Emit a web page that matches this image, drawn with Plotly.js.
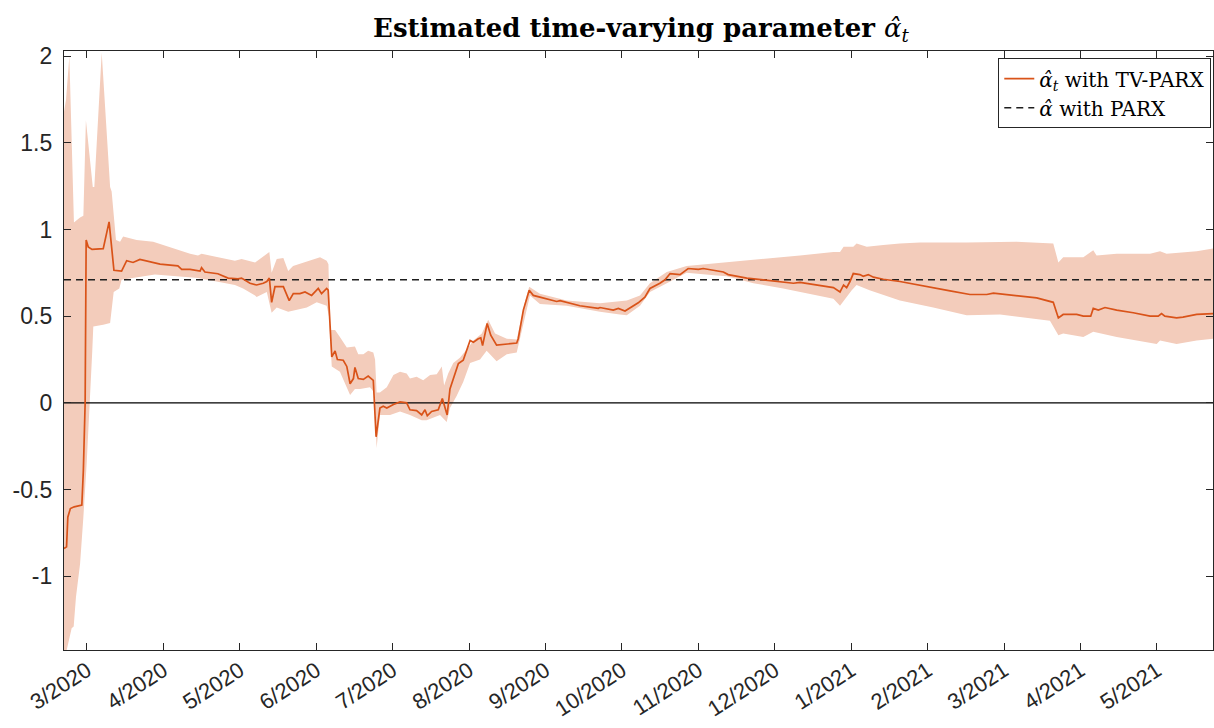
<!DOCTYPE html>
<html>
<head>
<meta charset="utf-8">
<script src="https://cdn.plot.ly/plotly-3.0.1.min.js"></script>
<style>html,body{margin:0;padding:0;background:#fff;}#chart{width:1214px;height:728px;}</style>
</head>
<body>
<div id="chart"></div>
<script>
const tickPositions = [9, 39, 69, 99, 129, 159, 189, 219, 249, 279, 309, 339, 369, 399, 429];
const tickLabels = ["3/2020","4/2020","5/2020","6/2020","7/2020","8/2020","9/2020","10/2020","11/2020","12/2020","1/2021","2/2021","3/2021","4/2021","5/2021"];
const tMax = 451;
const parxAlpha = 0.71;

const medT = [0,1,1.5,2.5,4,7,7.6,8.3,8.7,9.5,11,15.4,17.7,19.6,22.6,24.6,27.1,29.8,37.7,44.7,46.2,49.5,53.4,54,55.3,60.4,64.4,68.3,69.7,72.2,73,75.6,78.2,79.6,80.6,81.5,82.8,86.1,86.7,88.4,90,92.6,94.6,97.2,99.8,101.1,103.1,103.7,105.1,106.4,107.3,109.6,111,112.3,113.6,114.2,115.5,117.5,119.4,121.4,122.5,124,125.3,126.7,129.3,131.9,134.5,135.8,138.4,140.4,141.7,142.6,144.3,146.9,148.5,149.5,150.4,151.5,152.8,154.8,156.7,159.4,160.7,162.6,163.6,164.3,166.1,167.5,169.8,171.1,173.8,177.7,178.3,180.3,182.6,184.2,186.8,189.5,193.4,194.7,197.3,202.5,209.7,210.4,215.6,217.6,220.2,222.8,225.4,228,230,233.9,235.9,237.9,241.8,245,249,250.9,256.2,258.8,260.7,268,274.5,281,286.3,288.9,295.4,302,304.6,306,307.2,308.5,309.8,312.4,313.7,315.7,317.7,321.6,328.1,336,347.8,355.6,362.2,364.8,375.2,381.8,388.3,390.3,392.2,397.5,400.1,403,404,406,408.6,413.2,419.7,426.3,429.5,430.8,432.1,436.7,439.2,444.6,451];
const medV = [-0.84,-0.83,-0.66,-0.61,-0.60,-0.59,-0.39,0.0,0.94,0.90,0.885,0.89,1.044,0.765,0.76,0.82,0.81,0.827,0.80,0.79,0.77,0.77,0.76,0.78,0.755,0.745,0.72,0.715,0.72,0.70,0.69,0.68,0.69,0.70,0.72,0.58,0.67,0.67,0.65,0.59,0.63,0.63,0.64,0.62,0.66,0.63,0.66,0.65,0.265,0.30,0.25,0.246,0.21,0.11,0.14,0.204,0.14,0.135,0.155,0.13,-0.196,-0.03,-0.02,-0.03,-0.01,0.005,0.0,-0.04,-0.045,-0.07,-0.04,-0.075,-0.05,-0.04,0.025,-0.02,-0.07,0.08,0.14,0.227,0.246,0.36,0.35,0.37,0.375,0.33,0.458,0.39,0.333,0.335,0.34,0.345,0.37,0.535,0.65,0.62,0.61,0.60,0.585,0.59,0.58,0.56,0.545,0.55,0.535,0.545,0.53,0.555,0.577,0.61,0.66,0.69,0.71,0.746,0.74,0.775,0.77,0.775,0.76,0.755,0.74,0.72,0.71,0.70,0.69,0.695,0.68,0.665,0.64,0.68,0.665,0.70,0.746,0.74,0.73,0.74,0.725,0.713,0.70,0.68,0.646,0.625,0.625,0.633,0.617,0.606,0.58,0.49,0.51,0.51,0.50,0.50,0.545,0.535,0.55,0.535,0.52,0.50,0.50,0.515,0.50,0.49,0.495,0.51,0.515];

const upT = [0,0.8,2.1,3.9,6.3,7.6,8.6,11.3,11.9,14.8,18.1,18.7,20.4,22,23.2,28.5,35,45,49.5,52.6,54,67.1,69.7,75,80.6,81.5,83.5,86.1,88,89.9,93.8,100.5,103.1,103.8,104.4,106.4,108.3,111,114.2,115.5,117.5,119.4,121.4,122.1,122.7,124,126.7,129.3,131.9,134.5,135.8,138.4,141,143.7,146.3,148.3,149.2,150.8,152.8,155.4,158.7,160.7,164,166.5,169.2,173.8,177.7,180.9,182.6,186.8,197.3,210.4,220.9,226.1,230,236.6,244.4,260.1,275.8,288.9,302,304.6,306,309.8,311.1,315.1,321.6,328.1,336,354.3,373.9,388.3,390.3,392.2,400.1,404,405.3,413.2,426.3,430.2,432.8,439.3,444.6,451];
const upV = [1.68,1.75,2.0,1.04,1.07,1.08,1.63,1.245,1.245,2.02,1.245,1.22,0.94,0.93,0.96,0.94,0.93,0.88,0.86,0.85,0.86,0.82,0.83,0.81,0.87,0.75,0.83,0.835,0.76,0.79,0.81,0.84,0.82,0.80,0.42,0.42,0.38,0.32,0.325,0.28,0.28,0.30,0.29,0.25,0.06,0.06,0.09,0.16,0.18,0.17,0.14,0.15,0.13,0.16,0.165,0.21,0.10,0.17,0.23,0.26,0.32,0.36,0.40,0.48,0.40,0.37,0.365,0.58,0.67,0.63,0.59,0.575,0.59,0.62,0.69,0.755,0.79,0.81,0.83,0.85,0.87,0.87,0.90,0.90,0.92,0.90,0.91,0.92,0.925,0.925,0.93,0.92,0.81,0.84,0.84,0.88,0.85,0.86,0.86,0.875,0.86,0.87,0.875,0.89];

const loT = [0,1,3,3.8,4.7,6.3,7.6,8.9,10.2,11.1,11.5,15.4,18.1,19.5,21.7,22.6,35.7,52.6,67.1,70.3,75,75.6,79.6,81.5,83.5,88,95.3,99.2,103.1,104,105.1,108.3,112.3,114.2,116.2,120.1,121.8,122.7,124,128,131.9,135.8,140.4,142.3,147.6,150.2,151.5,154.1,156.7,159.4,163.3,165.9,169.8,173.8,177.7,180.3,182.9,186.8,197.3,210.4,218.2,220.9,226.1,230,236.6,244.4,256.2,260.1,270.6,282.3,295.4,302,304.6,307.2,309.2,311.1,316.2,328.1,341.2,354.3,367.4,387,390.3,392.2,400.1,404,413.2,428.9,430.2,436.7,444.6,451];
const loV = [-1.45,-1.43,-1.30,-1.29,-1.12,-0.93,-0.66,-0.35,0.0,0.30,0.44,0.45,0.46,0.64,0.66,0.71,0.74,0.72,0.68,0.66,0.62,0.61,0.64,0.52,0.55,0.525,0.55,0.58,0.56,0.50,0.21,0.18,0.045,0.08,0.08,0.09,0.06,-0.26,-0.07,-0.07,-0.05,-0.07,-0.10,-0.10,-0.07,-0.11,-0.03,0.04,0.12,0.23,0.25,0.30,0.24,0.28,0.29,0.45,0.62,0.57,0.56,0.525,0.51,0.505,0.56,0.64,0.69,0.75,0.735,0.73,0.69,0.66,0.62,0.60,0.56,0.61,0.65,0.68,0.65,0.59,0.55,0.506,0.51,0.473,0.39,0.40,0.38,0.41,0.38,0.34,0.36,0.34,0.36,0.37];

// ---- build traces ----
const bandX = upT.concat(loT.slice().reverse());
const bandY = upV.concat(loV.slice().reverse());
const axisColor = 'rgb(38,38,38)';

const traces = [
  {x: bandX, y: bandY, type: 'scatter', mode: 'lines', fill: 'toself',
   fillcolor: 'rgb(243,204,187)', line: {width: 0, color: 'rgba(0,0,0,0)'},
   showlegend: false, hoverinfo: 'skip'},
  {x: [0, tMax], y: [0, 0], type: 'scatter', mode: 'lines',
   line: {color: 'black', width: 1.4}, showlegend: false, hoverinfo: 'skip'},
  {x: [0, tMax], y: [parxAlpha, parxAlpha], type: 'scatter', mode: 'lines',
   name: '<i>α̂</i> with PARX', legendrank: 2,
   line: {color: 'rgb(30,30,30)', width: 1.4, dash: '7px,5px'}},
  {x: medT, y: medV, type: 'scatter', mode: 'lines',
   name: '<i>α̂<sub>t</sub></i> with TV-PARX', legendrank: 1,
   line: {color: 'rgb(217,83,25)', width: 1.7}}
];

const layout = {
  width: 1214, height: 728,
  margin: {l: 64, r: 1, t: 51, b: 78},
  paper_bgcolor: 'white', plot_bgcolor: 'white',
  title: {text: '<b>Estimated time-varying parameter </b><i>α̂<sub>t</sub></i>',
          font: {family: 'DejaVu Serif', size: 26, color: 'black'},
          x: 0.528, xanchor: 'center', y: 0.962, yanchor: 'middle', yref: 'container'},
  xaxis: {range: [0, tMax], tickmode: 'array', tickvals: tickPositions, ticktext: tickLabels,
          tickangle: -33, ticks: 'inside', ticklen: 7, tickcolor: axisColor, tickwidth: 1,
          showline: true, linecolor: axisColor, linewidth: 1.2, mirror: 'ticks',
          showgrid: false, zeroline: false, ticklabelstandoff: -2,
          tickfont: {family: 'Liberation Sans, Arial', size: 22, color: axisColor}},
  yaxis: {range: [-1.426, 2.03], tickmode: 'array', tickvals: [-1, -0.5, 0, 0.5, 1, 1.5, 2],
          ticktext: ['-1', '-0.5', '0', '0.5', '1', '1.5', '2'],
          ticks: 'inside', ticklen: 7, tickcolor: axisColor, tickwidth: 1,
          showline: true, linecolor: axisColor, linewidth: 1.2, mirror: 'ticks',
          showgrid: false, zeroline: false, ticklabelstandoff: 6,
          tickfont: {family: 'Liberation Sans, Arial', size: 23, color: axisColor}},
  legend: {x: 0.9985, xanchor: 'right', y: 0.988, yanchor: 'top',
           bgcolor: 'white', bordercolor: axisColor, borderwidth: 1,
           font: {family: 'DejaVu Serif', size: 20, color: 'black'},
           itemwidth: 30, tracegroupgap: 0},
  showlegend: true
};

Plotly.newPlot('chart', traces, layout, {staticPlot: true, displayModeBar: false});
</script>
</body>
</html>
